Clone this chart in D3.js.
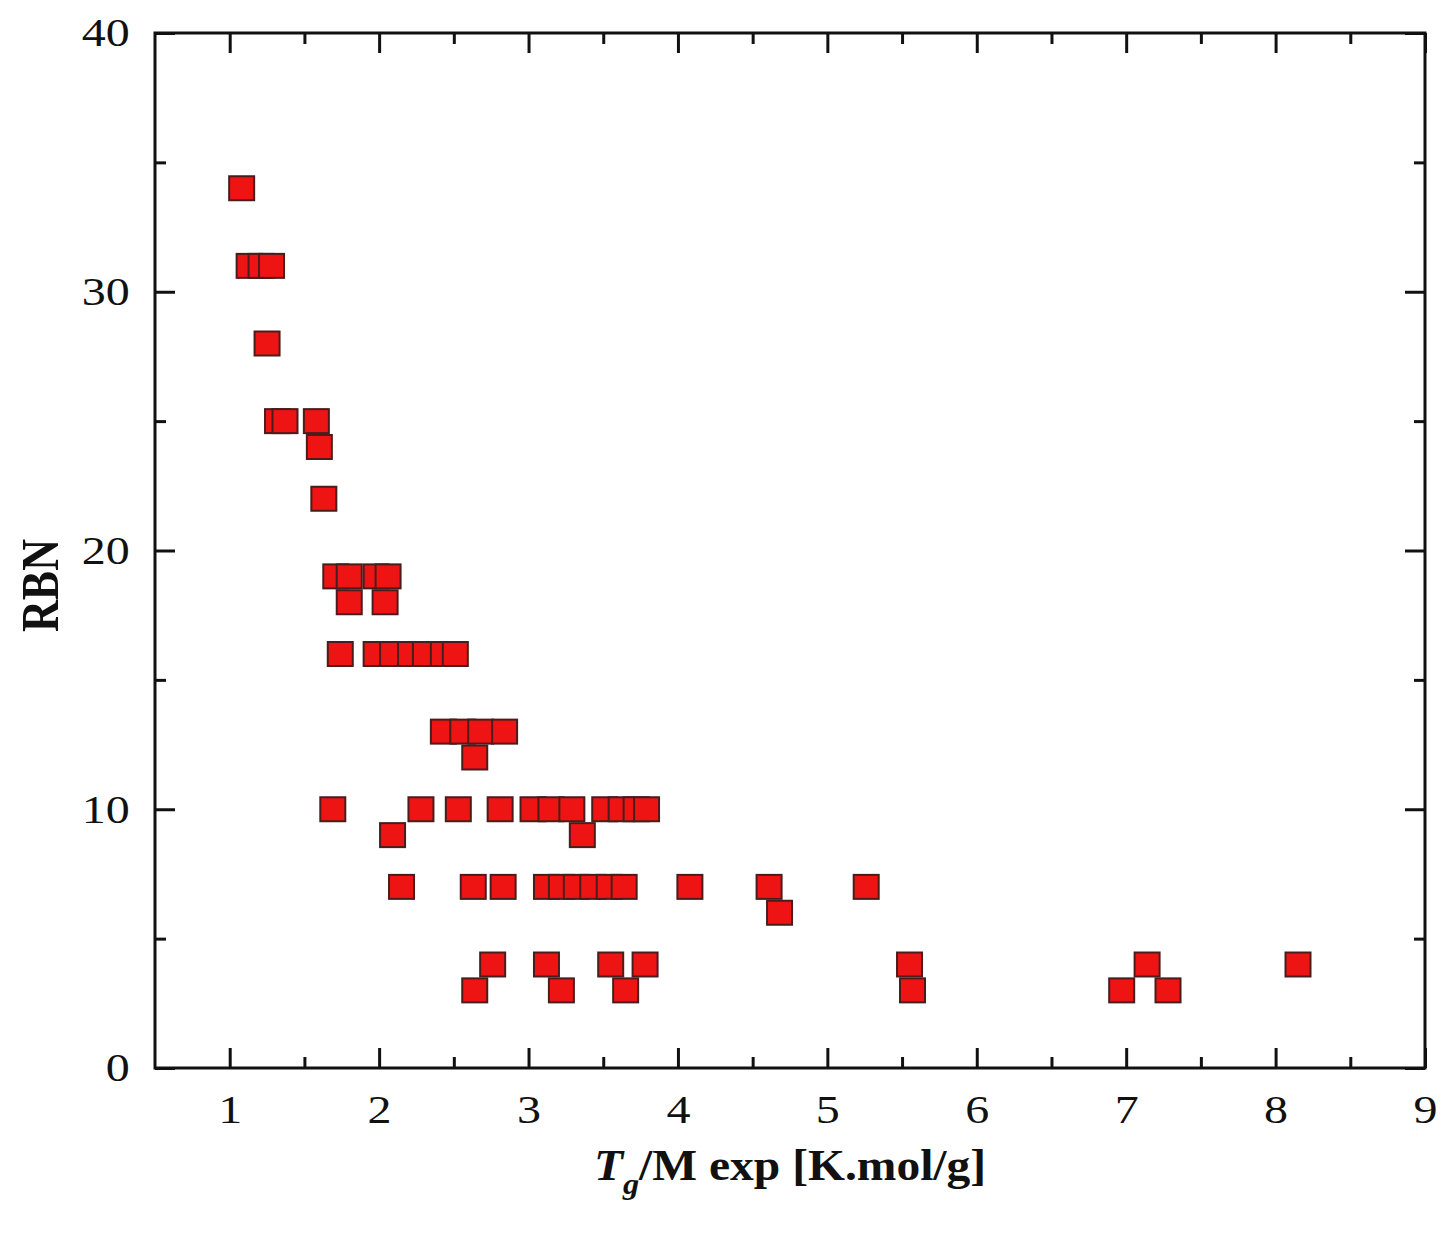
<!DOCTYPE html>
<html>
<head>
<meta charset="utf-8">
<script src="https://cdn.jsdelivr.net/npm/d3@7"></script>
<style>
  html, body { margin: 0; padding: 0; background: #fff; }
  svg { display: block; }
  text { font-family: "Liberation Serif", "Times New Roman", serif; fill: #111; }
</style>
</head>
<body>
<svg id="chart" width="1448" height="1233"></svg>
<script>
// Tg/M (K.mol/g) against rotatable bond number, one entry per compound
const tgOverM = [
  1.08,
  1.13, 1.21, 1.28,
  1.25,
  1.32, 1.37, 1.58,
  1.60,
  1.63,
  1.71, 1.80, 1.98, 2.06,
  1.80, 2.04,
  1.74, 1.98, 2.09, 2.21, 2.31, 2.43, 2.51,
  2.43, 2.56, 2.68, 2.84,
  2.64,
  1.69, 2.28, 2.53, 2.81, 3.03, 3.15, 3.29, 3.51, 3.62, 3.72, 3.79,
  2.09, 3.36,
  2.15, 2.63, 2.83, 3.12, 3.22, 3.32, 3.43, 3.54, 3.64, 4.08, 4.61, 5.26,
  4.68,
  2.76, 3.12, 3.55, 3.78, 5.55, 7.14, 8.15,
  2.64, 3.22, 3.65, 5.57, 6.97, 7.28
];
const rbn = [
  34,
  31, 31, 31,
  28,
  25, 25, 25,
  24,
  22,
  19, 19, 19, 19,
  18, 18,
  16, 16, 16, 16, 16, 16, 16,
  13, 13, 13, 13,
  12,
  10, 10, 10, 10, 10, 10, 10, 10, 10, 10, 10,
  9, 9,
  7, 7, 7, 7, 7, 7, 7, 7, 7, 7, 7, 7,
  6,
  4, 4, 4, 4, 4, 4, 4,
  3, 3, 3, 3, 3, 3
];

const xMajorTicks = [1, 2, 3, 4, 5, 6, 7, 8, 9];
const xMinorTicks = [1.5, 2.5, 3.5, 4.5, 5.5, 6.5, 7.5, 8.5];
const yMajorTicks = [0, 10, 20, 30, 40];
const yMinorTicks = [5, 15, 25, 35];
const xTitleMain = "T";
const xTitleSub = "g";
const xTitleRest = "/M exp [K.mol/g]";
const yTitle = "RBN";

const svg = d3.select("#chart");
const plotL = 155, plotR = 1425, plotT = 33, plotB = 1068;
const stretch = 1.2;

const x = d3.scaleLinear().domain([0.5, 9]).range([plotL, plotR]);
const y = d3.scaleLinear().domain([0, 40]).range([plotB, plotT]);

// markers
const pts = tgOverM.map((v, i) => ({ x: v, y: rbn[i] }));
const mw = 25, mh = 24;
svg.append("g").selectAll("rect")
  .data(pts).join("rect")
  .attr("x", d => x(d.x) - mw / 2)
  .attr("y", d => y(d.y) - mh / 2)
  .attr("width", mw)
  .attr("height", mh)
  .attr("fill", "#ee1414")
  .attr("stroke", "#4a1c1c")
  .attr("stroke-width", 2);

// axes: inward ticks on all four sides
function styleAxis(g) {
  g.select(".domain").remove();
  g.selectAll(".tick line").attr("stroke", "#111").attr("stroke-width", 3);
}
const majorLen = 20, minorLen = 11;

const gxb = svg.append("g").attr("transform", `translate(0,${plotB})`)
  .call(d3.axisBottom(x).tickValues(xMajorTicks).tickSize(-majorLen).tickPadding(27).tickFormat(d3.format("d")));
styleAxis(gxb);
gxb.selectAll(".tick text").attr("font-size", 40).attr("transform", `scale(${stretch},1)`);
styleAxis(svg.append("g").attr("transform", `translate(0,${plotB})`)
  .call(d3.axisBottom(x).tickValues(xMinorTicks).tickSize(-minorLen).tickFormat("")));

styleAxis(svg.append("g").attr("transform", `translate(0,${plotT})`)
  .call(d3.axisTop(x).tickValues(xMajorTicks).tickSize(-majorLen).tickFormat("")));
styleAxis(svg.append("g").attr("transform", `translate(0,${plotT})`)
  .call(d3.axisTop(x).tickValues(xMinorTicks).tickSize(-minorLen).tickFormat("")));

const gyl = svg.append("g").attr("transform", `translate(${plotL},0)`)
  .call(d3.axisLeft(y).tickValues(yMajorTicks).tickSize(-majorLen).tickPadding(21).tickFormat(d3.format("d")));
styleAxis(gyl);
gyl.selectAll(".tick text").attr("font-size", 40).attr("transform", `scale(${stretch},1)`);
styleAxis(svg.append("g").attr("transform", `translate(${plotL},0)`)
  .call(d3.axisLeft(y).tickValues(yMinorTicks).tickSize(-minorLen).tickFormat("")));

styleAxis(svg.append("g").attr("transform", `translate(${plotR},0)`)
  .call(d3.axisRight(y).tickValues(yMajorTicks).tickSize(-majorLen).tickFormat("")));
styleAxis(svg.append("g").attr("transform", `translate(${plotR},0)`)
  .call(d3.axisRight(y).tickValues(yMinorTicks).tickSize(-minorLen).tickFormat("")));

// frame
svg.append("rect")
  .attr("x", plotL).attr("y", plotT)
  .attr("width", plotR - plotL).attr("height", plotB - plotT)
  .attr("fill", "none").attr("stroke", "#111").attr("stroke-width", 3);

// axis titles
const xt = svg.append("text")
  .attr("transform", `translate(790,1180) scale(1.08,1)`)
  .attr("text-anchor", "middle")
  .attr("font-size", 44)
  .attr("font-weight", "bold");
xt.append("tspan").attr("font-style", "italic").text(xTitleMain);
xt.append("tspan").attr("font-style", "italic").attr("font-size", 30).attr("dy", 14).text(xTitleSub);
xt.append("tspan").attr("dy", -14).text(xTitleRest);

svg.append("text")
  .attr("transform", `translate(58,${(plotT + plotB) / 2 + 35}) rotate(-90) scale(1,${stretch})`)
  .attr("text-anchor", "middle")
  .attr("font-size", 44)
  .attr("font-weight", "bold")
  .text(yTitle);
</script>
</body>
</html>
